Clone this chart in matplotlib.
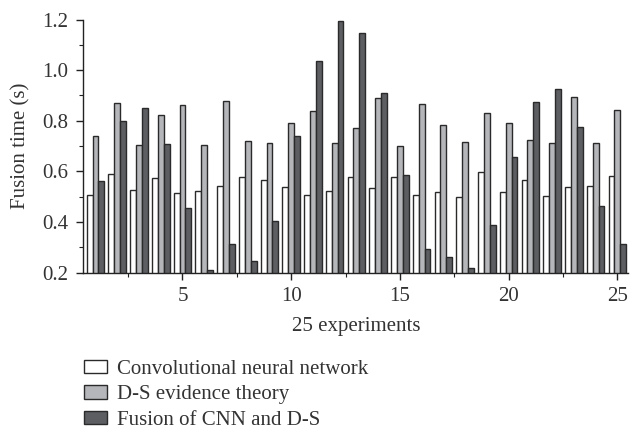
import matplotlib
matplotlib.use("Agg")
import matplotlib.pyplot as plt
import numpy as np
from matplotlib.ticker import MultipleLocator, FormatStrFormatter

experiments = np.arange(1, 26)
cnn_time = [0.505, 0.590, 0.527, 0.572, 0.514, 0.523, 0.543, 0.576, 0.567, 0.539,
            0.507, 0.524, 0.579, 0.535, 0.579, 0.507, 0.519, 0.500, 0.598, 0.518,
            0.564, 0.504, 0.537, 0.544, 0.583]
ds_time = [0.739, 0.869, 0.704, 0.821, 0.863, 0.704, 0.879, 0.722, 0.711, 0.792,
           0.840, 0.714, 0.770, 0.888, 0.702, 0.868, 0.784, 0.718, 0.830, 0.793,
           0.724, 0.714, 0.894, 0.711, 0.843]
fusion_time = [0.562, 0.801, 0.849, 0.707, 0.455, 0.209, 0.313, 0.245, 0.402, 0.738,
               1.038, 1.193, 1.145, 0.911, 0.587, 0.295, 0.261, 0.220, 0.387, 0.658,
               0.873, 0.926, 0.777, 0.465, 0.313]
labels = ["Convolutional neural network", "D-S evidence theory", "Fusion of CNN and D-S"]

plt.rcParams['font.family'] = ['Liberation Serif', 'DejaVu Serif']
txt = "#333333"

fig = plt.figure(figsize=(6.41, 4.44), dpi=100)
ax = fig.add_axes([0.130, 0.386, 0.850, 0.570])

w = 0.27
edge = "#2a2a2a"
b1 = ax.bar(experiments - w, cnn_time, w, color="white", edgecolor=edge, linewidth=1.0)
b2 = ax.bar(experiments, ds_time, w, color="#b4b6ba", edgecolor=edge, linewidth=1.0)
b3 = ax.bar(experiments + w, fusion_time, w, color="#5c5e62", edgecolor=edge, linewidth=1.0)

ax.set_ylim(0.2, 1.2)
ax.set_xlim(0.44, 25.5)
ax.yaxis.set_major_locator(MultipleLocator(0.2))
ax.yaxis.set_minor_locator(MultipleLocator(0.1))
ax.xaxis.set_major_locator(MultipleLocator(5))
ax.xaxis.set_minor_locator(MultipleLocator(2.5))
ax.yaxis.set_major_formatter(FormatStrFormatter("%.1f"))

for s in ["top", "right"]:
    ax.spines[s].set_visible(False)
for s in ["left", "bottom"]:
    ax.spines[s].set_linewidth(1.0)
    ax.spines[s].set_color("#222222")

ax.tick_params(axis="both", which="major", direction="out", length=5, width=1.0,
               labelsize=15, colors="#222222", labelcolor=txt)
ax.tick_params(axis="y", which="major", pad=6)
ax.tick_params(axis="x", which="major", pad=5)
ax.tick_params(axis="both", which="minor", direction="out", length=3, width=0.8, colors="#222222")

ax.set_ylabel("Fusion time (s)", fontsize=15, color=txt, labelpad=8)
ax.set_xlabel("25 experiments", fontsize=15, color=txt, labelpad=8)

fig.legend([b1, b2, b3], labels, loc="upper left", bbox_to_anchor=(0.131, 0.19),
           frameon=False, fontsize=15, handlelength=1.1, handleheight=0.6,
           labelspacing=0.32, handletextpad=0.5, borderpad=0, borderaxespad=0,
           labelcolor=txt)

fig.savefig("out.png", dpi=100)
